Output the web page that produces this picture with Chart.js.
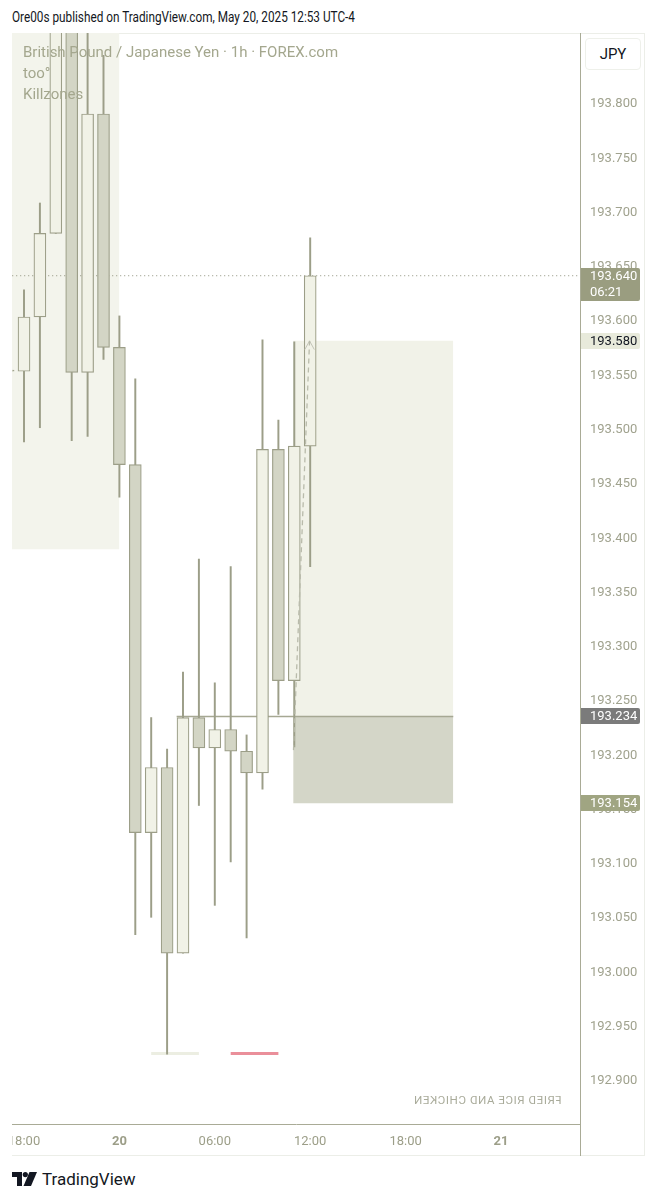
<!DOCTYPE html>
<html>
<head>
<meta charset="utf-8">
<script src="https://cdn.jsdelivr.net/npm/chart.js@4.4.1/dist/chart.umd.min.js"></script>
<style>
    body { margin: 0; background: #fff; width: 659px; height: 1200px; position: relative; overflow: hidden; font-family: Roboto, "Noto Sans", sans-serif; }
    #header { position: absolute; left: 12px; top: 9px; font-size: 14px; color: #131722; white-space: nowrap; transform-origin: 0 0; }
    #frame { position: absolute; left: 12px; top: 33px; width: 633px; height: 1123px; border: 1px solid #eceee8; border-left: none; box-sizing: border-box; }
    #chart { position: absolute; left: 12px; top: 33px; }
    #legend { position: absolute; left: 23px; top: 42px; font-size: 15px; line-height: 21px; color: #a4a78e; white-space: nowrap; }
    #jpy { position: absolute; left: 585px; top: 38px; width: 56px; height: 32px; box-sizing: border-box; border: 1px solid #eef0ea; border-radius: 4px; background: #fff; font-size: 15px; color: #131722; text-align: center; line-height: 30px; }
    #mirror { position: absolute; left: 410px; top: 1093px; width: 155px; font-size: 11.5px; letter-spacing: 0.6px; color: #a9ab9a; transform: scaleX(-1); white-space: nowrap; text-align: center; }
    #logo { position: absolute; left: 12px; top: 1168px; height: 22px; display: flex; align-items: center; }
    #logo span { font-size: 17px; color: #131722; margin-left: 5px; }
</style>
</head>
<body>
<div id="header">Ore00s published on TradingView.com, May 20, 2025 12:53 UTC-4</div>
<div id="frame"></div>
<canvas id="chart" width="633" height="1123"></canvas>
<div id="legend">British Pound / Japanese Yen · 1h · FOREX.com<br>too°<br>Killzones</div>
<div id="jpy">JPY</div>
<div id="mirror">FRIED RICE AND CHICKEN</div>
<div id="logo">
    <svg width="25" height="14" viewBox="0 0 25 14"><path d="M0 0H10V14H5V5H0Z" fill="#131722"/><circle cx="13.3" cy="2.6" r="2.6" fill="#131722"/><path d="M17.5 0H25L19 14H11.5Z" fill="#131722"/></svg>
    <span>TradingView</span>
</div>

<script>
    // hours counted from May 19 18:00
    const hours  = [-1, 0, 1, 2, 3, 4, 5, 6, 7, 8, 9, 10, 11, 12, 13, 14, 15, 16, 17, 18];
    const opens  = [193.553, 193.552, 193.602, 193.679, 193.905, 193.551, 193.789, 193.574, 193.466, 193.127, 193.187, 193.016, 193.233, 193.205, 193.222, 193.202, 193.182, 193.480, 193.267, 193.483];
    const highs  = [193.556, 193.627, 193.707, 193.930, 193.940, 193.900, 193.843, 193.603, 193.545, 193.233, 193.204, 193.275, 193.379, 193.265, 193.372, 193.217, 193.581, 193.507, 193.579, 193.675];
    const lows   = [193.550, 193.487, 193.500, 193.679, 193.488, 193.492, 193.563, 193.436, 193.033, 193.049, 192.923, 193.016, 193.152, 193.060, 193.100, 193.030, 193.167, 193.236, 193.206, 193.372];
    const closes = [193.552, 193.602, 193.679, 193.905, 193.551, 193.789, 193.574, 193.466, 193.127, 193.187, 193.016, 193.233, 193.205, 193.222, 193.202, 193.182, 193.480, 193.267, 193.483, 193.640];

    const yTicks = [192.90, 192.95, 193.00, 193.05, 193.10, 193.15, 193.20, 193.25, 193.30, 193.35, 193.40, 193.45, 193.50, 193.55, 193.60, 193.65, 193.70, 193.75, 193.80];
    const xTicks = [0, 6, 12, 18, 24, 30];
    const xTickLabels = ['18:00', '20', '06:00', '12:00', '18:00', '21'];

    // drawings: killzone box, long position (entry / target / stop)
    const killzone = { from: -2, to: 6, top: 194.0, bottom: 193.388 };
    const position = { from: 16.93, to: 27, entry: 193.234, target: 193.580, stop: 193.154 };
    const entryLineStart = 9.6;
    const lastPrice = 193.640;
    const arrowFrom = [16.95, 193.203];
    const arrowTo = [17.96, 193.580];
    const sessionLight = [8, 11];
    const sessionRed = [13, 16];
    const sessionLevel = 192.9235;

    const priceTags = [193.640, 193.580, 193.234, 193.154];
    const priceTagTexts = [['193.640', '06:21'], ['193.580'], ['193.234'], ['193.154']];

    // fit header width to the reference
    const hdr = document.getElementById('header');
    hdr.style.transform = 'scaleX(' + (343 / hdr.offsetWidth) + ')';

    const BULL = '#f1f2e7', BEAR = '#d3d5c5', EDGE = '#9c9e88';

    function seg(x0, x1, y) { return [{x: x0, y: y}, {x: x1, y: y}]; }

    const tagsPlugin = {
        id: 'tags',
        afterDraw(chart) {
            const c = chart.ctx, ys = chart.scales.y, a = chart.chartArea;
            c.save();
            // axis line through the time row
            c.strokeStyle = '#a9ab96';
            c.lineWidth = 1;
            c.beginPath();
            c.moveTo(a.right + 0.5, 0);
            c.lineTo(a.right + 0.5, chart.height);
            c.stroke();

            const styles = [
                { bg: '#9a9d80', fg: '#ffffff' },
                { bg: '#e8eadb', fg: '#131722' },
                { bg: '#7b7b7b', fg: '#ffffff' },
                { bg: '#a0a582', fg: '#ffffff' }
            ];
            c.font = '13px Roboto';
            c.textBaseline = 'middle';
            c.textAlign = 'left';
            priceTags.forEach((p, i) => {
                const y = Math.round(ys.getPixelForValue(p));
                const lines = priceTagTexts[i];
                const h = lines.length === 2 ? 33 : 16;
                const top = y - 8;
                c.fillStyle = styles[i].bg;
                c.beginPath();
                c.roundRect(a.right + 1, top, 59, h, [0, 2, 2, 0]);
                c.fill();
                c.fillStyle = styles[i].fg;
                lines.forEach((t, k) => c.fillText(t, a.right + 10, top + 9 + k * 16));
            });
            c.restore();
        }
    };

    const ctx = document.getElementById('chart');
    const chart = new Chart(ctx, {
        type: 'bar',
        data: {
            datasets: [
                {
                    type: 'line', data: seg(killzone.from, killzone.to, killzone.top),
                    fill: { value: killzone.bottom }, backgroundColor: '#f3f4ec',
                    borderWidth: 0, pointRadius: 0, order: 10
                },
                {
                    type: 'line', data: seg(position.from, position.to, position.target),
                    fill: { value: position.entry }, backgroundColor: '#f1f2e8',
                    borderWidth: 0, pointRadius: 0, order: 9
                },
                {
                    type: 'line', data: seg(position.from, position.to, position.stop),
                    fill: { value: position.entry }, backgroundColor: '#d4d6c8',
                    borderWidth: 0, pointRadius: 0, order: 9
                },
                {
                    type: 'line', data: seg(entryLineStart, position.to, position.entry),
                    borderColor: '#a6a893', borderWidth: 1.5, pointRadius: 0, fill: false, order: 8
                },
                {
                    type: 'line', data: seg(-2, 40, lastPrice),
                    borderColor: '#8e907c', borderWidth: 1, borderDash: [1, 3], pointRadius: 0, fill: false, order: 7
                },
                {
                    type: 'line', data: seg(sessionLight[0], sessionLight[1], sessionLevel),
                    borderColor: '#eceee2', borderWidth: 3, pointRadius: 0, fill: false, order: 7
                },
                {
                    type: 'line', data: seg(sessionRed[0], sessionRed[1], sessionLevel),
                    borderColor: '#ea8f9a', borderWidth: 3, pointRadius: 0, fill: false, order: 7
                },
                {
                    // wicks
                    data: hours.map((h, i) => ({x: h, y: [lows[i], highs[i]]})),
                    backgroundColor: EDGE, borderWidth: 0, barThickness: 1.3, grouped: false, order: 3
                },
                {
                    // bodies
                    data: hours.map((h, i) => ({x: h, y: [opens[i], closes[i]]})),
                    backgroundColor: hours.map((h, i) => closes[i] >= opens[i] ? BULL : BEAR),
                    borderColor: EDGE, borderWidth: 1.2, borderSkipped: false,
                    barThickness: 12, grouped: false, order: 2
                },
                {
                    type: 'line', data: [{x: arrowFrom[0], y: arrowFrom[1]}, {x: arrowTo[0], y: arrowTo[1]}],
                    borderColor: '#b9bbab', borderWidth: 1.3, borderDash: [5, 4], pointRadius: 0, fill: false, order: 1
                },
                {
                    type: 'line', data: [{x: arrowTo[0] - 0.3, y: arrowTo[1] - 0.008}, {x: arrowTo[0], y: arrowTo[1]}, {x: arrowTo[0] + 0.3, y: arrowTo[1] - 0.008}],
                    borderColor: '#c4c5b8', borderWidth: 1, pointRadius: 0, fill: false, order: 1
                }
            ]
        },
        options: {
            responsive: false,
            animation: false,
            devicePixelRatio: 1,
            layout: { padding: 0 },
            plugins: { legend: { display: false }, tooltip: { enabled: false } },
            scales: {
                x: {
                    type: 'linear', min: -0.755, max: 34.97, offset: false,
                    grid: { display: false, drawTicks: false },
                    border: { display: true, color: '#a9ab96' },
                    afterBuildTicks: (s) => { s.ticks = xTicks.map(v => ({value: v})); },
                    afterFit: (s) => { s.height = 32; s.paddingLeft = 0; s.paddingRight = 0; s.paddingTop = 0; s.paddingBottom = 0; },
                    ticks: {
                        autoSkip: false, maxRotation: 0, padding: 10, color: '#9c9e88',
                        font: (c) => ({ family: 'Roboto', size: 13, weight: (c.tick && (c.tick.value === 6 || c.tick.value === 30)) ? 'bold' : 'normal' }),
                        callback: (v) => xTickLabels[xTicks.indexOf(v)]
                    }
                },
                y: {
                    position: 'right', min: 192.8586, max: 193.8636,
                    grid: { display: false, drawTicks: false },
                    border: { display: true, color: '#a9ab96' },
                    afterBuildTicks: (s) => { s.ticks = yTicks.map(v => ({value: v})); },
                    afterFit: (s) => { s.width = 65; s.paddingLeft = 0; s.paddingRight = 0; s.paddingTop = 0; s.paddingBottom = 0; },
                    ticks: {
                        padding: 10, labelOffset: 2, color: '#a0a28e',
                        font: { family: 'Roboto', size: 13 },
                        callback: (v) => v.toFixed(3)
                    }
                }
            }
        },
        plugins: [tagsPlugin]
    });
</script>
</body>
</html>
